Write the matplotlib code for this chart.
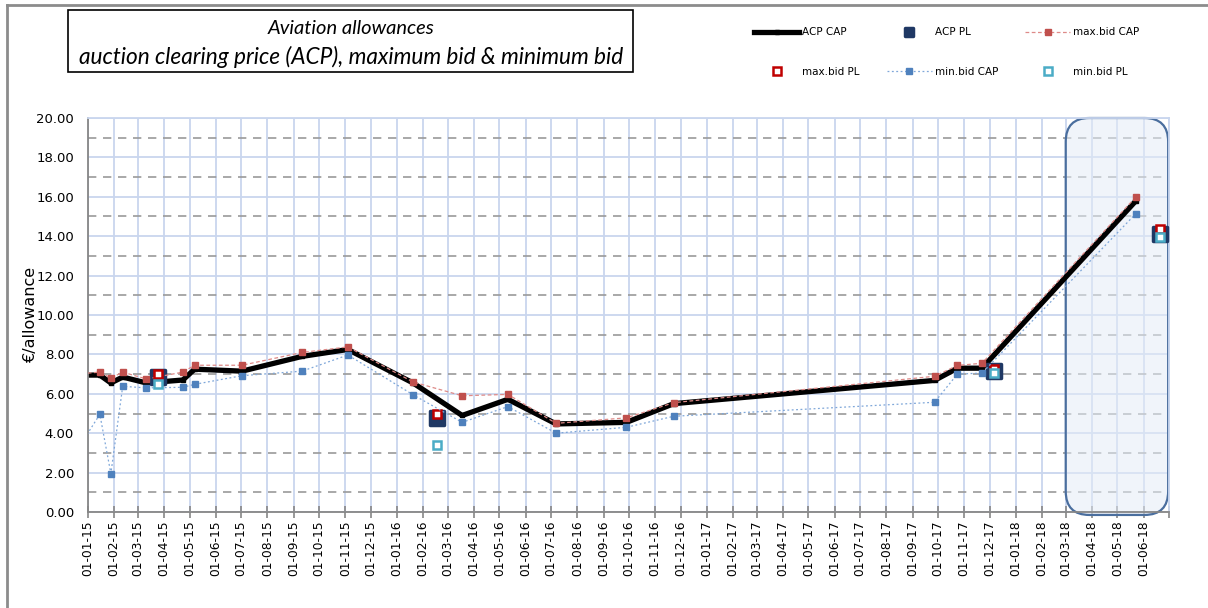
import matplotlib
matplotlib.use('Agg')
import matplotlib.pyplot as plt
import matplotlib.dates as mdates
import matplotlib.ticker as mticker
from matplotlib.patches import FancyBboxPatch, Rectangle
from matplotlib.lines import Line2D
from matplotlib.markers import MarkerStyle
import numpy as np

# CAP auctions (first one lies just before the visible range)
cap_dates = ['2014-12-17', '2015-01-15', '2015-01-28', '2015-02-11', '2015-03-11',
             '2015-04-23', '2015-05-07', '2015-07-02', '2015-09-11', '2015-11-04',
             '2016-01-20', '2016-03-18', '2016-05-11', '2016-07-07', '2016-09-28',
             '2016-11-23', '2017-09-27', '2017-10-24', '2017-11-22', '2018-05-23']
acp_cap = [6.95, 6.95, 6.55, 6.85, 6.55, 6.70, 7.25, 7.15, 7.90, 8.25,
           6.55, 4.90, 5.72, 4.47, 4.55, 5.50, 6.68, 7.30, 7.30, 15.80]
maxbid_cap = [7.00, 7.10, 6.80, 7.10, 6.75, 7.10, 7.45, 7.45, 8.10, 8.38,
              6.60, 5.90, 5.97, 4.50, 4.78, 5.55, 6.89, 7.44, 7.55, 16.00]
minbid_cap = [3.00, 4.96, 1.95, 6.38, 6.30, 6.33, 6.48, 6.92, 7.15, 7.97,
              5.95, 4.55, 5.35, 4.00, 4.30, 4.86, 5.57, 7.00, 7.05, 15.15]

# PL auctions
pl_dates = ['2015-03-25', '2016-02-17', '2017-12-06', '2018-06-20']
acp_pl = [6.85, 4.75, 7.15, 14.10]
maxbid_pl = [7.00, 4.95, 7.25, 14.35]
minbid_pl = [6.50, 3.40, 7.05, 13.95]

cap_x = np.array(cap_dates, dtype='datetime64[D]')
pl_x = np.array(pl_dates, dtype='datetime64[D]')

W, H = 1208, 608
fig = plt.figure(figsize=(W / 100, H / 100), dpi=100)
ax = fig.add_axes([88 / W, 96 / H, 1081 / W, 394 / H])

grid_c = '#C9D6EE'
ax.set_axisbelow(True)
ax.grid(which='major', axis='both', color=grid_c, lw=1.3)
ax.grid(which='minor', axis='y', color='#9A9A9A', ls=(0, (5, 4)), lw=1.2)

# highlighted period
hx0 = mdates.date2num(np.datetime64('2018-03-01'))
hx1 = mdates.date2num(np.datetime64('2018-06-30'))
for kw in (dict(fc='#E4ECF7', alpha=0.55, ec='none', zorder=1),
           dict(fc='none', ec='#4A6E9E', lw=1.6, zorder=1.5)):
    ax.add_patch(FancyBboxPatch((hx0, -0.15), hx1 - hx0, 20.15,
                                boxstyle='round,pad=0,rounding_size=28',
                                mutation_aspect=0.043, clip_on=False, **kw))

rsq = MarkerStyle('s', joinstyle='round')
l_acp, = ax.plot(cap_x, acp_cap, color='black', lw=3.8, marker='s', ms=3,
                 solid_joinstyle='round', label='ACP CAP', zorder=2)
l_acppl, = ax.plot(pl_x, acp_pl, ls='none', marker=rsq, ms=9.5, mew=2.5,
                   mfc='#1F3864', mec='#1F3864', label='ACP PL', zorder=3)
l_max, = ax.plot(cap_x, maxbid_cap, color='#DE8A88', lw=0.9, ls=(0, (3, 2)),
                 marker='s', ms=4.8, mfc='#C0504D', mec='#C0504D',
                 label='max.bid CAP', zorder=4)
l_maxpl, = ax.plot(pl_x, maxbid_pl, ls='none', marker='s', ms=5.8, mew=1.8,
                   mfc='white', mec='#C00000', label='max.bid PL', zorder=5)
l_min, = ax.plot(cap_x, minbid_cap, color='#7FA7D9', lw=0.9, ls=(0, (1.5, 2)),
                 marker='s', ms=4.8, mfc='#4F81BD', mec='#4F81BD',
                 label='min.bid CAP', zorder=6)
l_minpl, = ax.plot(pl_x, minbid_pl, ls='none', marker='s', ms=6.2, mew=1.8,
                   mfc='white', mec='#4BACC6', label='min.bid PL', zorder=7)

ax.set_xlim(np.datetime64('2015-01-01'), np.datetime64('2018-07-01'))
ax.set_ylim(0, 20)
ax.yaxis.set_major_locator(mticker.MultipleLocator(2))
ax.yaxis.set_minor_locator(mticker.FixedLocator(np.arange(1, 20, 2)))
ax.yaxis.set_major_formatter(mticker.FormatStrFormatter('%.2f'))
ax.xaxis.set_major_locator(mdates.MonthLocator())


def fmt_date(v, pos):
    d = mdates.num2date(v)
    if d.year == 2018 and d.month == 7:
        return ''
    return d.strftime('%d-%m-%y')


ax.xaxis.set_major_formatter(mticker.FuncFormatter(fmt_date))
ax.tick_params(axis='x', which='major', direction='inout', length=8,
               color='#868686', width=1.2, labelsize=8.8, labelrotation=90, pad=2)
ax.tick_params(axis='y', which='both', length=0, labelsize=9.5, pad=10)
for s in ['left', 'bottom']:
    ax.spines[s].set_color('#868686')
    ax.spines[s].set_linewidth(1.3)
for s in ['top', 'right']:
    ax.spines[s].set_color(grid_c)
    ax.spines[s].set_linewidth(1.3)
ax.set_ylabel('€/allowance', fontsize=11.5, labelpad=-1)

# legend, filled column by column
handles = [l_acp, l_maxpl, l_acppl, l_min, l_max, l_minpl]
leg = fig.legend(handles=handles, labels=[h.get_label() for h in handles],
                 ncol=3, frameon=False, fontsize=7.5, handlelength=4.3,
                 handletextpad=0.3, columnspacing=2.6, labelspacing=2.8,
                 loc='upper left', bbox_to_anchor=(745 / W, 1 - 18 / H))
leg.legend_handles[2].set_markersize(6)

# title box
fig.add_artist(Rectangle((68 / W, 1 - 72 / H), 565 / W, 62 / H,
                         transform=fig.transFigure, fill=False,
                         ec='black', lw=1.2))
fig.text(351 / W, 1 - 29 / H, 'Aviation allowances', ha='center', va='center',
         fontsize=14.5, style='italic', family='Lato')
fig.text(351 / W, 1 - 57 / H,
         'auction clearing price (ACP), maximum bid & minimum bid',
         ha='center', va='center', fontsize=16.3, style='italic', family='Lato')

# outer chart-area border (top and left)
fig.add_artist(Line2D([7 / W, 1], [1 - 5 / H, 1 - 5 / H],
                      transform=fig.transFigure, color='#8C8C8C', lw=2))
fig.add_artist(Line2D([7 / W, 7 / W], [0, 1 - 5 / H],
                      transform=fig.transFigure, color='#8C8C8C', lw=2))

fig.savefig('out.png', dpi=100)
